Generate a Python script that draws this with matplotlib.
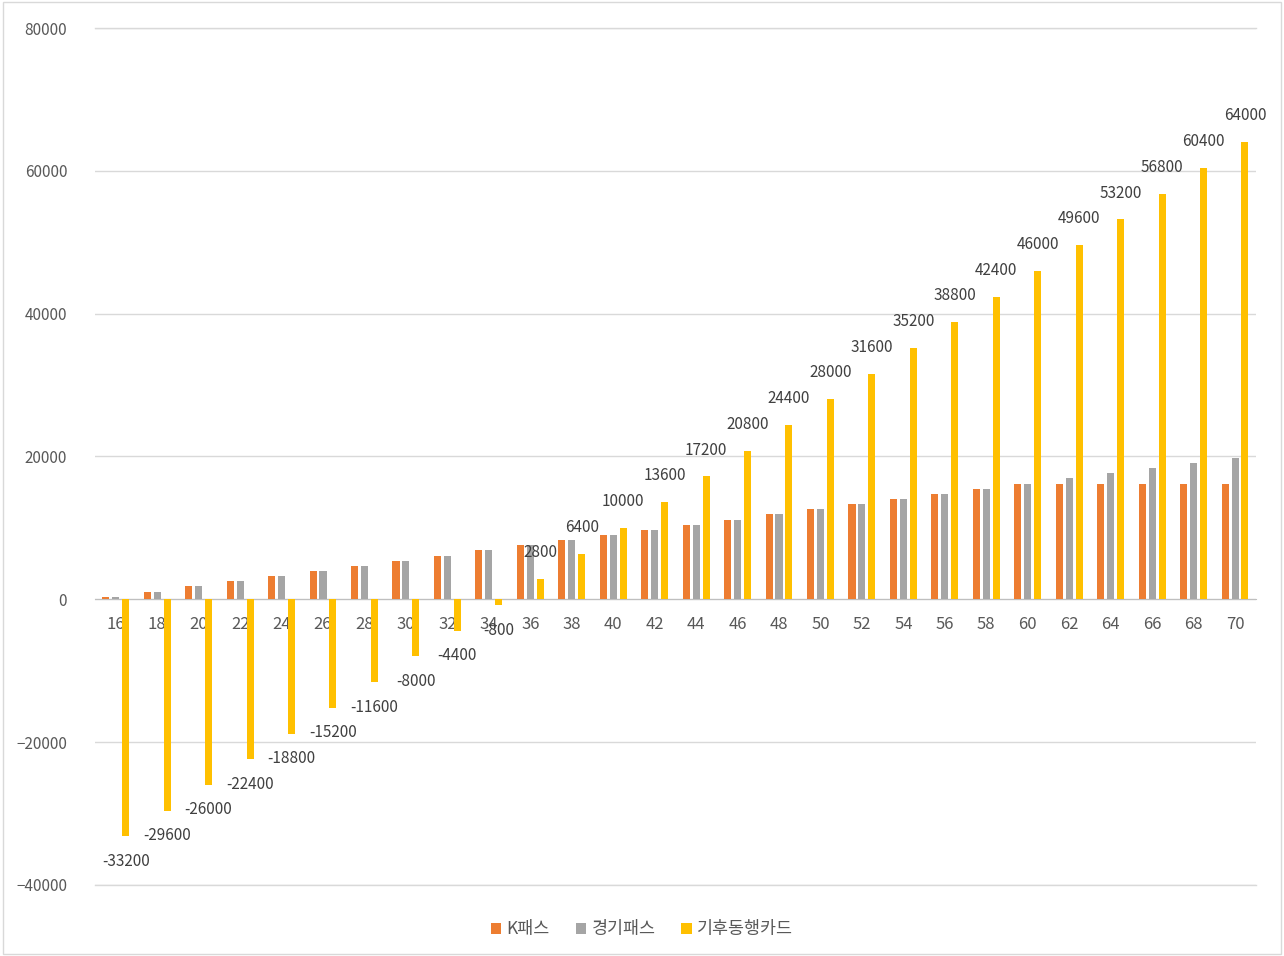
import numpy as np
import matplotlib
matplotlib.use("Agg")
import matplotlib.pyplot as plt
from matplotlib.patches import Rectangle

plt.rcParams['font.family'] = ['Noto Sans CJK KR', 'DejaVu Sans']

# --- data ---
trips = [16, 18, 20, 22, 24, 26, 28, 30, 32, 34, 36, 38, 40, 42,
         44, 46, 48, 50, 52, 54, 56, 58, 60, 62, 64, 66, 68, 70]
kpass = [360, 1080, 1800, 2520, 3240, 3960, 4680, 5400, 6120, 6840,
         7560, 8280, 9000, 9720, 10440, 11160, 11880, 12600, 13320, 14040,
         14760, 15480, 16200, 16200, 16200, 16200, 16200, 16200]
gg_pass = [360, 1080, 1800, 2520, 3240, 3960, 4680, 5400, 6120, 6840,
           7560, 8280, 9000, 9720, 10440, 11160, 11880, 12600, 13320, 14040,
           14760, 15480, 16200, 16920, 17640, 18360, 19080, 19800]
climate_card = [-33200, -29600, -26000, -22400, -18800, -15200, -11600, -8000,
                -4400, -800, 2800, 6400, 10000, 13600, 17200, 20800, 24400,
                28000, 31600, 35200, 38800, 42400, 46000, 49600, 53200, 56800,
                60400, 64000]
series_names = ['K패스', '경기패스', '기후동행카드']
colors = ['#ED7D31', '#A5A5A5', '#FFC000']

fig = plt.figure(figsize=(12.84, 9.56), dpi=100)
ax = fig.add_axes([0.074, 0.0743, 0.904, 0.8964])

x = np.arange(len(trips))
w = 0.17
step = 0.24
for i, (vals, c) in enumerate(zip([kpass, gg_pass, climate_card], colors)):
    ax.bar(x + (i - 1) * step, vals, width=w, color=c, label=series_names[i], zorder=3)

# data labels on the yellow series
for xi, v in zip(x, climate_card):
    off = 19 if v >= 0 else -18
    ax.annotate(f'{v}', (xi + step, v), xytext=(0, off), textcoords='offset points',
                ha='center', va='center', fontsize=11, color='#404040', zorder=4)

ax.set_xlim(-0.5, len(trips) - 0.5)
ax.set_ylim(-40000, 80000)
ax.set_yticks(np.arange(-40000, 80001, 20000))
ax.grid(axis='y', color='#d9d9d9', linewidth=1, zorder=0)
ax.axhline(-40000, color='#d9d9d9', linewidth=1, clip_on=False, zorder=0)
ax.axhline(80000, color='#d9d9d9', linewidth=1, clip_on=False, zorder=0)
ax.set_axisbelow(True)

for s in ['top', 'right', 'left']:
    ax.spines[s].set_visible(False)
ax.spines['bottom'].set_position(('data', 0))
ax.spines['bottom'].set_color('#bfbfbf')
ax.spines['bottom'].set_zorder(2)

ax.set_xticks(x)
ax.set_xticklabels([str(t) for t in trips])
ax.tick_params(axis='x', length=0, pad=12, labelsize=12, labelcolor='#595959')
ax.tick_params(axis='y', length=0, pad=20, labelsize=11, labelcolor='#595959')

leg = fig.legend(loc='center', bbox_to_anchor=(0.5, 0.028), ncol=3, frameon=False,
                 fontsize=12.5, handlelength=0.6, handleheight=0.6, handletextpad=0.3,
                 columnspacing=1.5)
for t in leg.get_texts():
    t.set_color('#595959')

# chart border
fig.patches.append(Rectangle((0.002, 0.002), 0.996, 0.996, transform=fig.transFigure,
                             fill=False, edgecolor='#d9d9d9', linewidth=1))

fig.savefig('out.png', dpi=100)
